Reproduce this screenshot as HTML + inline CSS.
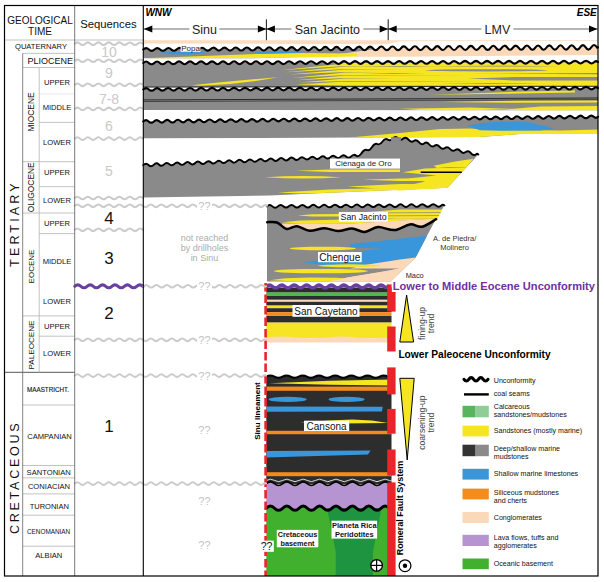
<!DOCTYPE html>
<html><head><meta charset="utf-8"><title>Chronostratigraphic chart</title>
<style>html,body{margin:0;padding:0;background:#fff;}body{width:604px;height:582px;overflow:hidden;font-family:"Liberation Sans",sans-serif;}svg{display:block;}</style></head>
<body>
<svg width="604" height="582" viewBox="0 0 604 582" font-family="Liberation Sans, sans-serif">
<polygon points="143.3,40.2 598,40.2 598,41 400,41.2 386,44.2 143.3,43.4" fill="#fadcc0" />
<path d="M344.9,48.5Q347.7,45 350.5,48.5Q353.3,52 356.1,48.5Q358.9,44.9 361.7,48.4Q364.5,52 367.3,48.4Q370.1,44.8 372.9,48.4Q375.7,52 378.5,48.4Q381.3,44.7 384.1,48.3Q386.9,52 389.7,48.3Q392.5,44.6 395.3,48.3Q398.1,52 400.9,48.3Q403.7,44.5 406.5,48.2Q409.3,52 412.1,48.2Q414.9,44.4 417.7,48.2Q420.5,52 423.3,48.1Q426.1,44.3 428.9,48.1Q431.7,51.9 434.5,48.1Q437.3,44.2 440.1,48.1Q442.9,51.9 445.7,48Q448.5,44.1 451.3,48Q454.1,51.9 456.9,48Q459.7,44 462.5,48Q465.3,51.9 468.1,47.9Q470.9,43.9 473.7,47.9Q476.5,51.9 479.3,47.9Q482.1,43.8 484.9,47.8Q487.7,51.9 490.5,47.8Q493.3,43.7 496.1,47.8Q498.9,51.9 501.7,47.8Q504.5,43.6 507.3,47.7Q510.1,51.9 512.9,47.7Q515.7,43.5 518.5,47.7Q521.3,51.9 524.1,47.7Q526.9,43.4 529.7,47.6Q532.5,51.9 535.3,47.6Q538.1,43.3 540.9,47.6Q543.7,51.8 546.5,47.5Q549.3,43.2 552.1,47.5Q554.9,51.8 557.7,47.5Q560.5,43.1 563.3,47.5Q566.1,51.8 568.9,47.4Q571.7,43 574.5,47.4Q577.3,51.8 580.1,47.4Q582.9,42.9 585.7,47.4Q588.5,51.8 591.3,47.3Q594.1,42.8 596.9,47.3Q597.5,48.2 598,47.3L598,55L400,56.7L357,56.7L340,54Z" fill="#fbd8b8"/>
<path d="M143.3,49.5Q146.1,46.8 148.9,49.5Q151.7,52.2 154.5,49.4Q157.3,46.7 160.1,49.4Q162.9,52.2 165.7,49.4Q168.5,46.6 171.3,49.4Q174.1,52.2 176.9,49.3Q179.7,46.5 182.5,49.3Q185.3,52.2 188.1,49.3Q190.9,46.4 193.7,49.3Q196.5,52.2 199.3,49.2Q202.1,46.3 204.9,49.2Q207.7,52.1 210.5,49.2Q213.3,46.2 216.1,49.1Q218.9,52.1 221.7,49.1Q224.5,46.1 227.3,49.1Q230.1,52.1 232.9,49.1Q235.7,46 238.5,49Q241.3,52.1 244.1,49Q246.9,45.9 249.7,49Q252.5,52.1 255.3,49Q258.1,45.8 260.9,48.9Q263.7,52.1 266.5,48.9Q269.3,45.7 272.1,48.9Q274.9,52.1 277.7,48.8Q280.5,45.6 283.3,48.8Q286.1,52.1 288.9,48.8Q291.7,45.5 294.5,48.8Q297.3,52.1 300.1,48.7Q302.9,45.4 305.7,48.7Q308.5,52.1 311.3,48.7Q314.1,45.3 316.9,48.7Q319.7,52 322.5,48.6Q325.3,45.2 328.1,48.6Q330.9,52 333.7,48.6Q336.5,45.1 339.3,48.6Q342.1,52 344.9,48.5Q347.7,45 350.5,48.5Q353.3,52 356.1,48.5Q358.9,44.9 361.7,48.4Q364.5,52 367.3,48.4Q370.1,44.8 372.9,48.4Q375.7,52 378.5,48.4L340,54L300,57L250,58.3L143.3,58.3Z" fill="#8a8a8a"/>
<polygon points="150,57.9 260,53.9 300,52.9 357,53.5 357,56.6 300,57.6 260,58.1 150,58.3" fill="#f5e522" />
<polygon points="159,52.5 180,51.6 203,51.8 206,53 190,54.6 170,54.2" fill="#3a96da" />
<polygon points="254,51.6 280,50.8 303,51.2 300,52.8 270,53.6 256,53" fill="#3a96da" />
<path d="M143.3,49.5Q146.1,46.8 148.9,49.5Q151.7,52.2 154.5,49.4Q157.3,46.7 160.1,49.4Q162.9,52.2 165.7,49.4Q168.5,46.6 171.3,49.4Q174.1,52.2 176.9,49.3Q179.7,46.5 182.5,49.3Q185.3,52.2 188.1,49.3Q190.9,46.4 193.7,49.3Q196.5,52.2 199.3,49.2Q202.1,46.3 204.9,49.2Q207.7,52.1 210.5,49.2Q213.3,46.2 216.1,49.1Q218.9,52.1 221.7,49.1Q224.5,46.1 227.3,49.1Q230.1,52.1 232.9,49.1Q235.7,46 238.5,49Q241.3,52.1 244.1,49Q246.9,45.9 249.7,49Q252.5,52.1 255.3,49Q258.1,45.8 260.9,48.9Q263.7,52.1 266.5,48.9Q269.3,45.7 272.1,48.9Q274.9,52.1 277.7,48.8Q280.5,45.6 283.3,48.8Q286.1,52.1 288.9,48.8Q291.7,45.5 294.5,48.8Q297.3,52.1 300.1,48.7Q302.9,45.4 305.7,48.7Q308.5,52.1 311.3,48.7Q314.1,45.3 316.9,48.7Q319.7,52 322.5,48.6Q325.3,45.2 328.1,48.6Q330.9,52 333.7,48.6Q336.5,45.1 339.3,48.6Q342.1,52 344.9,48.5Q347.7,45 350.5,48.5Q353.3,52 356.1,48.5Q358.9,44.9 361.7,48.4Q364.5,52 367.3,48.4Q370.1,44.8 372.9,48.4Q375.7,52 378.5,48.4Q381.3,44.7 384.1,48.3Q386.9,52 389.7,48.3Q392.5,44.6 395.3,48.3Q398.1,52 400.9,48.3Q403.7,44.5 406.5,48.2Q409.3,52 412.1,48.2Q414.9,44.4 417.7,48.2Q420.5,52 423.3,48.1Q426.1,44.3 428.9,48.1Q431.7,51.9 434.5,48.1Q437.3,44.2 440.1,48.1Q442.9,51.9 445.7,48Q448.5,44.1 451.3,48Q454.1,51.9 456.9,48Q459.7,44 462.5,48Q465.3,51.9 468.1,47.9Q470.9,43.9 473.7,47.9Q476.5,51.9 479.3,47.9Q482.1,43.8 484.9,47.8Q487.7,51.9 490.5,47.8Q493.3,43.7 496.1,47.8Q498.9,51.9 501.7,47.8Q504.5,43.6 507.3,47.7Q510.1,51.9 512.9,47.7Q515.7,43.5 518.5,47.7Q521.3,51.9 524.1,47.7Q526.9,43.4 529.7,47.6Q532.5,51.9 535.3,47.6Q538.1,43.3 540.9,47.6Q543.7,51.8 546.5,47.5Q549.3,43.2 552.1,47.5Q554.9,51.8 557.7,47.5Q560.5,43.1 563.3,47.5Q566.1,51.8 568.9,47.4Q571.7,43 574.5,47.4Q577.3,51.8 580.1,47.4Q582.9,42.9 585.7,47.4Q588.5,51.8 591.3,47.3Q594.1,42.8 596.9,47.3Q597.5,48.2 598,47.3" fill="none" stroke="#000" stroke-width="2.1" stroke-linecap="round" stroke-linejoin="round"/>
<rect x="180.6" y="44.6" width="19.8" height="7.2" fill="#fff" />
<text x="190.5" y="48.3" font-size="8" fill="#222" text-anchor="middle" font-weight="normal" font-style="normal" dominant-baseline="central" >Popa</text>
<path d="M143.3,62.9Q146.1,60.1 148.8,62.9Q151.6,65.7 154.3,62.9Q157.1,60.1 159.8,62.9Q162.6,65.7 165.3,62.9Q168.1,60.1 170.8,62.9Q173.6,65.6 176.3,62.8Q179.1,60 181.8,62.8Q184.6,65.6 187.3,62.8Q190.1,60 192.8,62.8Q195.6,65.6 198.3,62.8Q201.1,60 203.8,62.8Q206.6,65.6 209.3,62.8Q212.1,60 214.8,62.8Q217.6,65.6 220.3,62.8Q223.1,60 225.8,62.8Q228.6,65.6 231.3,62.7Q234.1,59.9 236.8,62.7Q239.6,65.5 242.3,62.7Q245.1,59.9 247.8,62.7Q250.6,65.5 253.3,62.7Q256.1,59.9 258.8,62.7Q261.6,65.5 264.3,62.7Q267.1,59.9 269.8,62.7Q272.6,65.5 275.3,62.7Q278.1,59.9 280.8,62.7Q283.6,65.5 286.3,62.6Q289.1,59.8 291.8,62.6Q294.6,65.4 297.3,62.6Q300.1,59.8 302.8,62.6Q305.6,65.4 308.3,62.6Q311.1,59.8 313.8,62.6Q316.6,65.4 319.3,62.6Q322.1,59.8 324.8,62.6Q327.6,65.4 330.3,62.6Q333.1,59.8 335.8,62.6Q338.6,65.4 341.3,62.6Q344.1,59.7 346.8,62.5Q349.6,65.3 352.3,62.5Q355.1,59.7 357.8,62.5Q360.6,65.3 363.3,62.5Q366.1,59.7 368.8,62.5Q371.6,65.3 374.3,62.5Q377.1,59.7 379.8,62.5Q382.6,65.3 385.3,62.5Q388.1,59.7 390.8,62.5Q393.6,65.3 396.3,62.5Q399.1,59.7 401.8,62.4Q404.6,65.2 407.3,62.4Q410.1,59.6 412.8,62.4Q415.6,65.2 418.3,62.4Q421.1,59.6 423.8,62.4Q426.6,65.2 429.3,62.4Q432.1,59.6 434.8,62.4Q437.6,65.2 440.3,62.4Q443.1,59.6 445.8,62.4Q448.6,65.2 451.3,62.4Q454.1,59.6 456.8,62.3Q459.6,65.1 462.3,62.3Q465.1,59.5 467.8,62.3Q470.6,65.1 473.3,62.3Q476.1,59.5 478.8,62.3Q481.6,65.1 484.3,62.3Q487.1,59.5 489.8,62.3Q492.6,65.1 495.3,62.3Q498.1,59.5 500.8,62.3Q503.6,65.1 506.3,62.3Q509.1,59.5 511.8,62.3Q514.5,65 517.3,62.2Q520,59.4 522.8,62.2Q525.5,65 528.3,62.2Q531,59.4 533.8,62.2Q536.5,65 539.3,62.2Q542,59.4 544.8,62.2Q547.5,65 550.3,62.2Q553,59.4 555.8,62.2Q558.5,65 561.3,62.2Q564,59.4 566.8,62.2Q569.5,65 572.3,62.1Q575,59.3 577.8,62.1Q580.5,64.9 583.3,62.1Q586,59.3 588.8,62.1Q591.5,64.9 594.3,62.1Q596.1,60.2 598,62.1L598,87L143.3,87.5Z" fill="#8a8a8a"/>
<polygon points="343,63 598,62.5 598,86 343,85.4" fill="#f5e522" />
<polygon points="280,70.3 345,63.4 345,66" fill="#f5e522" />
<polygon points="285,72.2 345,66.5 345,69" fill="#f5e522" />
<polygon points="289,74.6 345,69.5 345,72" fill="#f5e522" />
<polygon points="292,77.9 345,72.5 345,75" fill="#f5e522" />
<polygon points="296,80.2 345,75.5 345,78" fill="#f5e522" />
<polygon points="299,82.4 345,78.5 345,81" fill="#f5e522" />
<polygon points="296,84.6 345,81.6 345,85.4" fill="#f5e522" />
<polygon points="343,66 343,66.5 372,66.2" fill="#8a8a8a" />
<polygon points="343,69 343,69.6 400,69.3" fill="#8a8a8a" />
<polygon points="343,72 343,72.5 380,72.2" fill="#8a8a8a" />
<polygon points="343,75 343,75.6 470,75.3" fill="#8a8a8a" />
<polygon points="343,78 343,78.5 395,78.2" fill="#8a8a8a" />
<polygon points="343,81 343,81.7 486,81.3" fill="#8a8a8a" />
<path d="M360,66.4 Q398,65.5 436,66.4 Q398,67.3 360,66.4Z" fill="#8a8a8a"/>
<path d="M362,73.6 Q393.5,72.7 425,73.6 Q393.5,74.5 362,73.6Z" fill="#8a8a8a"/>
<ellipse cx="486.5" cy="70.3" rx="61.5" ry="1.1" fill="#8a8a8a"/>
<polygon points="468,78.6 515,77 598,77 598,80.4 515,80.4" fill="#8a8a8a" />
<path d="M430,66.2 Q495,65.5 560,66.2 Q495,66.9 430,66.2Z" fill="#8a8a8a"/>
<polygon points="470,73.6 598,73 598,74.2" fill="#8a8a8a" />
<path d="M440,83.3 Q490,82.6 540,83.3 Q490,84 440,83.3Z" fill="#8a8a8a"/>
<path d="M191.5,85.2 Q235,80.6 278,77.2 Q240,84.6 200,85.8Z" fill="#f5e522"/>
<path d="M143.3,62.9Q146.1,60.1 148.8,62.9Q151.6,65.7 154.3,62.9Q157.1,60.1 159.8,62.9Q162.6,65.7 165.3,62.9Q168.1,60.1 170.8,62.9Q173.6,65.6 176.3,62.8Q179.1,60 181.8,62.8Q184.6,65.6 187.3,62.8Q190.1,60 192.8,62.8Q195.6,65.6 198.3,62.8Q201.1,60 203.8,62.8Q206.6,65.6 209.3,62.8Q212.1,60 214.8,62.8Q217.6,65.6 220.3,62.8Q223.1,60 225.8,62.8Q228.6,65.6 231.3,62.7Q234.1,59.9 236.8,62.7Q239.6,65.5 242.3,62.7Q245.1,59.9 247.8,62.7Q250.6,65.5 253.3,62.7Q256.1,59.9 258.8,62.7Q261.6,65.5 264.3,62.7Q267.1,59.9 269.8,62.7Q272.6,65.5 275.3,62.7Q278.1,59.9 280.8,62.7Q283.6,65.5 286.3,62.6Q289.1,59.8 291.8,62.6Q294.6,65.4 297.3,62.6Q300.1,59.8 302.8,62.6Q305.6,65.4 308.3,62.6Q311.1,59.8 313.8,62.6Q316.6,65.4 319.3,62.6Q322.1,59.8 324.8,62.6Q327.6,65.4 330.3,62.6Q333.1,59.8 335.8,62.6Q338.6,65.4 341.3,62.6Q344.1,59.7 346.8,62.5Q349.6,65.3 352.3,62.5Q355.1,59.7 357.8,62.5Q360.6,65.3 363.3,62.5Q366.1,59.7 368.8,62.5Q371.6,65.3 374.3,62.5Q377.1,59.7 379.8,62.5Q382.6,65.3 385.3,62.5Q388.1,59.7 390.8,62.5Q393.6,65.3 396.3,62.5Q399.1,59.7 401.8,62.4Q404.6,65.2 407.3,62.4Q410.1,59.6 412.8,62.4Q415.6,65.2 418.3,62.4Q421.1,59.6 423.8,62.4Q426.6,65.2 429.3,62.4Q432.1,59.6 434.8,62.4Q437.6,65.2 440.3,62.4Q443.1,59.6 445.8,62.4Q448.6,65.2 451.3,62.4Q454.1,59.6 456.8,62.3Q459.6,65.1 462.3,62.3Q465.1,59.5 467.8,62.3Q470.6,65.1 473.3,62.3Q476.1,59.5 478.8,62.3Q481.6,65.1 484.3,62.3Q487.1,59.5 489.8,62.3Q492.6,65.1 495.3,62.3Q498.1,59.5 500.8,62.3Q503.6,65.1 506.3,62.3Q509.1,59.5 511.8,62.3Q514.5,65 517.3,62.2Q520,59.4 522.8,62.2Q525.5,65 528.3,62.2Q531,59.4 533.8,62.2Q536.5,65 539.3,62.2Q542,59.4 544.8,62.2Q547.5,65 550.3,62.2Q553,59.4 555.8,62.2Q558.5,65 561.3,62.2Q564,59.4 566.8,62.2Q569.5,65 572.3,62.1Q575,59.3 577.8,62.1Q580.5,64.9 583.3,62.1Q586,59.3 588.8,62.1Q591.5,64.9 594.3,62.1Q596.1,60.2 598,62.1" fill="none" stroke="#000" stroke-width="2.1" stroke-linecap="round" stroke-linejoin="round"/>
<line x1="143.3" y1="87" x2="598" y2="86.2" stroke="#111" stroke-width="0.7" />
<path d="M143.3,89.4Q146.1,86.8 148.8,89.4Q151.6,92 154.3,89.4Q157.1,86.8 159.8,89.4Q162.6,91.9 165.3,89.3Q168.1,86.7 170.8,89.3Q173.6,91.9 176.3,89.3Q179.1,86.7 181.8,89.3Q184.6,91.9 187.3,89.3Q190.1,86.7 192.8,89.3Q195.6,91.9 198.3,89.2Q201.1,86.6 203.8,89.2Q206.6,91.8 209.3,89.2Q212.1,86.6 214.8,89.2Q217.6,91.8 220.3,89.2Q223.1,86.6 225.8,89.2Q228.6,91.8 231.3,89.1Q234.1,86.5 236.8,89.1Q239.6,91.7 242.3,89.1Q245.1,86.5 247.8,89.1Q250.6,91.7 253.3,89.1Q256.1,86.5 258.8,89.1Q261.6,91.7 264.3,89.1Q267.1,86.4 269.8,89Q272.6,91.6 275.3,89Q278.1,86.4 280.8,89Q283.6,91.6 286.3,89Q289.1,86.4 291.8,89Q294.6,91.6 297.3,89Q300.1,86.4 302.8,88.9Q305.6,91.5 308.3,88.9Q311.1,86.3 313.8,88.9Q316.6,91.5 319.3,88.9Q322.1,86.3 324.8,88.9Q327.6,91.5 330.3,88.9Q333.1,86.3 335.8,88.8Q338.6,91.4 341.3,88.8Q344.1,86.2 346.8,88.8Q349.6,91.4 352.3,88.8Q355.1,86.2 357.8,88.8Q360.6,91.4 363.3,88.8Q366.1,86.2 368.8,88.8Q371.6,91.3 374.3,88.7Q377.1,86.1 379.8,88.7Q382.6,91.3 385.3,88.7Q388.1,86.1 390.8,88.7Q393.6,91.3 396.3,88.7Q399.1,86.1 401.8,88.7Q404.6,91.3 407.3,88.6Q410.1,86 412.8,88.6Q415.6,91.2 418.3,88.6Q421.1,86 423.8,88.6Q426.6,91.2 429.3,88.6Q432.1,86 434.8,88.6Q437.6,91.2 440.3,88.6Q443.1,85.9 445.8,88.5Q448.6,91.1 451.3,88.5Q454.1,85.9 456.8,88.5Q459.6,91.1 462.3,88.5Q465.1,85.9 467.8,88.5Q470.6,91.1 473.3,88.5Q476.1,85.8 478.8,88.4Q481.6,91 484.3,88.4Q487.1,85.8 489.8,88.4Q492.6,91 495.3,88.4Q498.1,85.8 500.8,88.4Q503.6,91 506.3,88.4Q509.1,85.8 511.8,88.3Q514.5,90.9 517.3,88.3Q520,85.7 522.8,88.3Q525.5,90.9 528.3,88.3Q531,85.7 533.8,88.3Q536.5,90.9 539.3,88.3Q542,85.7 544.8,88.3Q547.5,90.8 550.3,88.2Q553,85.6 555.8,88.2Q558.5,90.8 561.3,88.2Q564,85.6 566.8,88.2Q569.5,90.8 572.3,88.2Q575,85.6 577.8,88.2Q580.5,90.7 583.3,88.1Q586,85.5 588.8,88.1Q591.5,90.7 594.3,88.1Q596.1,86.4 598,88.1L598,110.3L143.3,109.9Z" fill="#8a8a8a"/>
<polygon points="430,94.8 520,91.6 575,90.4 575,92.6 520,93.6" fill="#f5e522" />
<polygon points="440,102 520,100.6 598,100.4 598,102.6 520,102.8" fill="#f5e522" />
<polygon points="500,110 540,106.5 598,106 598,110.3 540,110.3" fill="#f5e522" />
<polygon points="400,108.8 470,107.6 520,109 470,110.3 420,110.1" fill="#f5e522" />
<path d="M143.3,89.4Q146.1,86.8 148.8,89.4Q151.6,92 154.3,89.4Q157.1,86.8 159.8,89.4Q162.6,91.9 165.3,89.3Q168.1,86.7 170.8,89.3Q173.6,91.9 176.3,89.3Q179.1,86.7 181.8,89.3Q184.6,91.9 187.3,89.3Q190.1,86.7 192.8,89.3Q195.6,91.9 198.3,89.2Q201.1,86.6 203.8,89.2Q206.6,91.8 209.3,89.2Q212.1,86.6 214.8,89.2Q217.6,91.8 220.3,89.2Q223.1,86.6 225.8,89.2Q228.6,91.8 231.3,89.1Q234.1,86.5 236.8,89.1Q239.6,91.7 242.3,89.1Q245.1,86.5 247.8,89.1Q250.6,91.7 253.3,89.1Q256.1,86.5 258.8,89.1Q261.6,91.7 264.3,89.1Q267.1,86.4 269.8,89Q272.6,91.6 275.3,89Q278.1,86.4 280.8,89Q283.6,91.6 286.3,89Q289.1,86.4 291.8,89Q294.6,91.6 297.3,89Q300.1,86.4 302.8,88.9Q305.6,91.5 308.3,88.9Q311.1,86.3 313.8,88.9Q316.6,91.5 319.3,88.9Q322.1,86.3 324.8,88.9Q327.6,91.5 330.3,88.9Q333.1,86.3 335.8,88.8Q338.6,91.4 341.3,88.8Q344.1,86.2 346.8,88.8Q349.6,91.4 352.3,88.8Q355.1,86.2 357.8,88.8Q360.6,91.4 363.3,88.8Q366.1,86.2 368.8,88.8Q371.6,91.3 374.3,88.7Q377.1,86.1 379.8,88.7Q382.6,91.3 385.3,88.7Q388.1,86.1 390.8,88.7Q393.6,91.3 396.3,88.7Q399.1,86.1 401.8,88.7Q404.6,91.3 407.3,88.6Q410.1,86 412.8,88.6Q415.6,91.2 418.3,88.6Q421.1,86 423.8,88.6Q426.6,91.2 429.3,88.6Q432.1,86 434.8,88.6Q437.6,91.2 440.3,88.6Q443.1,85.9 445.8,88.5Q448.6,91.1 451.3,88.5Q454.1,85.9 456.8,88.5Q459.6,91.1 462.3,88.5Q465.1,85.9 467.8,88.5Q470.6,91.1 473.3,88.5Q476.1,85.8 478.8,88.4Q481.6,91 484.3,88.4Q487.1,85.8 489.8,88.4Q492.6,91 495.3,88.4Q498.1,85.8 500.8,88.4Q503.6,91 506.3,88.4Q509.1,85.8 511.8,88.3Q514.5,90.9 517.3,88.3Q520,85.7 522.8,88.3Q525.5,90.9 528.3,88.3Q531,85.7 533.8,88.3Q536.5,90.9 539.3,88.3Q542,85.7 544.8,88.3Q547.5,90.8 550.3,88.2Q553,85.6 555.8,88.2Q558.5,90.8 561.3,88.2Q564,85.6 566.8,88.2Q569.5,90.8 572.3,88.2Q575,85.6 577.8,88.2Q580.5,90.7 583.3,88.1Q586,85.5 588.8,88.1Q591.5,90.7 594.3,88.1Q596.1,86.4 598,88.1" fill="none" stroke="#000" stroke-width="2.1" stroke-linecap="round" stroke-linejoin="round"/>
<line x1="143.3" y1="99.9" x2="598" y2="98" stroke="#111" stroke-width="0.8" />
<line x1="143.3" y1="101.5" x2="598" y2="99.6" stroke="#111" stroke-width="0.6" />
<path d="M143.3,121.5Q146,118.9 148.6,121.4Q151.3,124 153.9,121.4Q156.6,118.8 159.2,121.3Q161.9,123.9 164.5,121.3Q167.2,118.7 169.8,121.2Q172.5,123.8 175.1,121.2Q177.8,118.5 180.4,121.1Q183.1,123.7 185.7,121.1Q188.4,118.4 191,121Q193.7,123.6 196.3,121Q199,118.3 201.6,120.9Q204.3,123.5 206.9,120.8Q209.6,118.2 212.2,120.8Q214.9,123.4 217.5,120.7Q220.2,118.1 222.8,120.7Q225.5,123.3 228.1,120.6Q230.8,118 233.4,120.6Q236.1,123.1 238.7,120.5Q241.4,117.9 244,120.5Q246.7,123 249.3,120.4Q252,117.8 254.6,120.3Q257.3,122.9 259.9,120.3Q262.6,117.7 265.2,120.2Q267.9,122.8 270.5,120.2Q273.2,117.6 275.8,120.1Q278.5,122.7 281.1,120.1Q283.8,117.4 286.4,120Q289.1,122.6 291.7,120Q294.4,117.3 297,119.9Q299.7,122.5 302.3,119.9Q305,117.2 307.6,119.8Q310.3,122.4 312.9,119.7Q315.6,117.1 318.2,119.7Q320.9,122.3 323.5,119.6Q326.2,117 328.8,119.6Q331.5,122.2 334.1,119.5Q336.8,116.9 339.4,119.5Q342.1,122 344.7,119.4Q347.4,116.8 350,119.4Q352.7,121.9 355.3,119.3Q358,116.7 360.6,119.3Q363.3,121.8 365.9,119.2Q368.6,116.6 371.2,119.1Q373.9,121.7 376.5,119.1Q379.2,116.5 381.8,119Q384.5,121.6 387.1,119Q389.8,116.4 392.4,118.9Q395.1,121.5 397.7,118.9Q400.4,116.2 403,118.8Q405.7,121.4 408.3,118.8Q411,116.1 413.6,118.7Q416.3,121.3 418.9,118.7Q421.6,116 424.2,118.6Q426.9,121.2 429.5,118.5Q432.2,115.9 434.8,118.5Q437.5,121.1 440.1,118.4Q442.8,115.8 445.4,118.4Q448.1,120.9 450.7,118.3Q453.4,115.7 456,118.3Q458.7,120.8 461.3,118.2Q464,115.6 466.6,118.2Q469.3,120.7 471.9,118.1Q474.6,115.5 477.2,118Q479.9,120.6 482.5,118Q485.2,115.4 487.8,117.9Q490.5,120.5 493.1,117.9Q495.8,115.3 498.4,117.8Q501.1,120.4 503.7,117.8Q506.4,115.1 509,117.7Q511.7,120.3 514.3,117.7Q517,115 519.6,117.6Q522.3,120.2 524.9,117.6Q527.6,114.9 530.2,117.5Q532.9,120.1 535.5,117.4Q538.2,114.8 540.8,117.4Q543.5,120 546.1,117.3Q548.8,114.7 551.4,117.3Q554.1,119.9 556.7,117.2Q559.4,114.6 562,117.2Q564.7,119.7 567.3,117.1Q570,114.5 572.6,117.1Q575.3,119.6 577.9,117Q580.6,114.4 583.2,117Q585.9,119.5 588.5,116.9Q591.2,114.3 593.8,116.8Q595.9,118.9 598,116.8L598,134L520,134L480,137L400,137.3L360,137.5L260,138L143.3,138.3Z" fill="#8a8a8a"/>
<polygon points="349,137.6 400,133 440,129 470,128.4 500,130 560,130.4 598,129.4 598,134 520,134 480,137 400,137.4" fill="#f5e522" />
<polygon points="467,126 480,123.2 495,121.8 520,121.6 530,122.6 537,124.6 548,126.6 554,128.8 540,130.4 500,130.8 480,130.2" fill="#3a96da" />
<path d="M143.3,121.5Q146,118.9 148.6,121.4Q151.3,124 153.9,121.4Q156.6,118.8 159.2,121.3Q161.9,123.9 164.5,121.3Q167.2,118.7 169.8,121.2Q172.5,123.8 175.1,121.2Q177.8,118.5 180.4,121.1Q183.1,123.7 185.7,121.1Q188.4,118.4 191,121Q193.7,123.6 196.3,121Q199,118.3 201.6,120.9Q204.3,123.5 206.9,120.8Q209.6,118.2 212.2,120.8Q214.9,123.4 217.5,120.7Q220.2,118.1 222.8,120.7Q225.5,123.3 228.1,120.6Q230.8,118 233.4,120.6Q236.1,123.1 238.7,120.5Q241.4,117.9 244,120.5Q246.7,123 249.3,120.4Q252,117.8 254.6,120.3Q257.3,122.9 259.9,120.3Q262.6,117.7 265.2,120.2Q267.9,122.8 270.5,120.2Q273.2,117.6 275.8,120.1Q278.5,122.7 281.1,120.1Q283.8,117.4 286.4,120Q289.1,122.6 291.7,120Q294.4,117.3 297,119.9Q299.7,122.5 302.3,119.9Q305,117.2 307.6,119.8Q310.3,122.4 312.9,119.7Q315.6,117.1 318.2,119.7Q320.9,122.3 323.5,119.6Q326.2,117 328.8,119.6Q331.5,122.2 334.1,119.5Q336.8,116.9 339.4,119.5Q342.1,122 344.7,119.4Q347.4,116.8 350,119.4Q352.7,121.9 355.3,119.3Q358,116.7 360.6,119.3Q363.3,121.8 365.9,119.2Q368.6,116.6 371.2,119.1Q373.9,121.7 376.5,119.1Q379.2,116.5 381.8,119Q384.5,121.6 387.1,119Q389.8,116.4 392.4,118.9Q395.1,121.5 397.7,118.9Q400.4,116.2 403,118.8Q405.7,121.4 408.3,118.8Q411,116.1 413.6,118.7Q416.3,121.3 418.9,118.7Q421.6,116 424.2,118.6Q426.9,121.2 429.5,118.5Q432.2,115.9 434.8,118.5Q437.5,121.1 440.1,118.4Q442.8,115.8 445.4,118.4Q448.1,120.9 450.7,118.3Q453.4,115.7 456,118.3Q458.7,120.8 461.3,118.2Q464,115.6 466.6,118.2Q469.3,120.7 471.9,118.1Q474.6,115.5 477.2,118Q479.9,120.6 482.5,118Q485.2,115.4 487.8,117.9Q490.5,120.5 493.1,117.9Q495.8,115.3 498.4,117.8Q501.1,120.4 503.7,117.8Q506.4,115.1 509,117.7Q511.7,120.3 514.3,117.7Q517,115 519.6,117.6Q522.3,120.2 524.9,117.6Q527.6,114.9 530.2,117.5Q532.9,120.1 535.5,117.4Q538.2,114.8 540.8,117.4Q543.5,120 546.1,117.3Q548.8,114.7 551.4,117.3Q554.1,119.9 556.7,117.2Q559.4,114.6 562,117.2Q564.7,119.7 567.3,117.1Q570,114.5 572.6,117.1Q575.3,119.6 577.9,117Q580.6,114.4 583.2,117Q585.9,119.5 588.5,116.9Q591.2,114.3 593.8,116.8Q595.9,118.9 598,116.8" fill="none" stroke="#000" stroke-width="2.1" stroke-linecap="round" stroke-linejoin="round"/>
<path d="M143.3,165.2Q145.9,162.5 148.5,165Q151.1,167.5 153.7,164.8Q156.3,162.1 158.9,164.5Q161.5,167 164.1,164.3Q166.7,161.6 169.3,164.1Q171.9,166.6 174.5,163.9Q177.1,161.2 179.7,163.7Q182.3,166.2 184.9,163.4Q187.5,160.7 190.1,163.2Q192.7,165.7 195.3,163Q197.9,160.3 200.5,162.8Q203.1,165.3 205.7,162.6Q208.3,159.9 210.9,162.3Q213.5,164.8 216.1,162.1Q218.7,159.4 221.3,161.9Q223.9,164.4 226.5,161.7Q229.1,159 231.7,161.5Q234.3,164 236.9,161.2Q239.5,158.5 242.1,161Q244.7,163.5 247.3,160.8Q249.9,158.1 252.5,160.6Q255.1,163.1 257.7,160.4Q260.3,157.7 262.9,160.1Q265.5,162.6 268.1,159.9Q270.7,157.2 273.3,159.7Q275.9,162.2 278.5,159.5Q281.1,156.8 283.7,159.3Q286.3,161.8 288.9,159Q291.5,156.3 294.1,158.8Q296.7,161.3 299.3,158.6Q301.9,155.9 304.5,158.4Q307.1,160.8 309.7,158.1Q312.3,155.4 314.9,157.9Q317.5,160.4 320.1,157.7Q322.7,154.9 325.3,157.4Q327.9,159.9 330.5,157.2Q333.1,154.5 335.7,157Q338.3,159.4 340.9,156.7Q343.5,154 346.1,156.5Q348.7,159 351.3,156.3Q353.9,153.5 356.5,156Q359.1,157.2 361.7,153.1Q364.3,149 366.9,150Q369.5,151.1 372.1,147Q374.7,142.9 377.3,144Q379.9,145.4 382.5,141.5Q385.1,137.9 387.7,139.5Q390.3,141.6 392.9,138.5Q395.5,135.8 398.1,138.3Q400.7,141 403.3,138.5Q405.9,136.5 408.5,139.7Q411.1,142.9 413.7,141Q416.3,139 418.9,142.2Q421.5,145.4 424.1,143.4Q426.7,141.4 429.3,144.5Q431.9,147.7 434.5,145.7Q437.1,143.7 439.7,146.9Q442.3,150.1 444.9,148Q447.5,145.9 450.1,149Q452.7,152.1 455.3,150Q457.9,148 460.5,151.1Q463.1,154.2 465.7,152.1Q468.3,150 470.9,153.1Q473.5,156.2 476.1,154.2Q477.2,153.3 478.3,154.6L447.5,187.7L330,192.8L270,195.4L143.3,197.5Z" fill="#8a8a8a"/>
<polygon points="295.8,170.8 330,169.6 400,169.6 400,172 330,172" fill="#f5e522" />
<path d="M265,177.3 Q303.2,174.7 341.5,177.3 Q303.2,179.9 265,177.3Z" fill="#f5e522"/>
<polygon points="363,179.7 400,178.4 440,178 440,181 400,181" fill="#f5e522" />
<polygon points="347.4,186.6 400,184 450,184 449,186 447.5,187.7 400,189.8" fill="#f5e522" />
<polygon points="278,192.6 330,189.4 400,187.4 447.5,187.7 400,189.8 330,192.8 300,193.6" fill="#f5e522" />
<polygon points="433.6,165.8 455,161.5 473.5,158.8 466.5,167 450,167 437,168" fill="#f5e522" />
<polygon points="402.8,172.3 425,168.6 466.4,167.2 447.5,187.8 400,190.4 385,189.6 412,184.5 425,181.5 408,178.4 436,175.6" fill="#f5e522" />
<path d="M143.3,165.2Q145.9,162.5 148.5,165Q151.1,167.5 153.7,164.8Q156.3,162.1 158.9,164.5Q161.5,167 164.1,164.3Q166.7,161.6 169.3,164.1Q171.9,166.6 174.5,163.9Q177.1,161.2 179.7,163.7Q182.3,166.2 184.9,163.4Q187.5,160.7 190.1,163.2Q192.7,165.7 195.3,163Q197.9,160.3 200.5,162.8Q203.1,165.3 205.7,162.6Q208.3,159.9 210.9,162.3Q213.5,164.8 216.1,162.1Q218.7,159.4 221.3,161.9Q223.9,164.4 226.5,161.7Q229.1,159 231.7,161.5Q234.3,164 236.9,161.2Q239.5,158.5 242.1,161Q244.7,163.5 247.3,160.8Q249.9,158.1 252.5,160.6Q255.1,163.1 257.7,160.4Q260.3,157.7 262.9,160.1Q265.5,162.6 268.1,159.9Q270.7,157.2 273.3,159.7Q275.9,162.2 278.5,159.5Q281.1,156.8 283.7,159.3Q286.3,161.8 288.9,159Q291.5,156.3 294.1,158.8Q296.7,161.3 299.3,158.6Q301.9,155.9 304.5,158.4Q307.1,160.8 309.7,158.1Q312.3,155.4 314.9,157.9Q317.5,160.4 320.1,157.7Q322.7,154.9 325.3,157.4Q327.9,159.9 330.5,157.2Q333.1,154.5 335.7,157Q338.3,159.4 340.9,156.7Q343.5,154 346.1,156.5Q348.7,159 351.3,156.3Q353.9,153.5 356.5,156Q359.1,157.2 361.7,153.1Q364.3,149 366.9,150Q369.5,151.1 372.1,147Q374.7,142.9 377.3,144Q379.9,145.4 382.5,141.5Q385.1,137.9 387.7,139.5Q390.3,141.6 392.9,138.5Q395.5,135.8 398.1,138.3Q400.7,141 403.3,138.5Q405.9,136.5 408.5,139.7Q411.1,142.9 413.7,141Q416.3,139 418.9,142.2Q421.5,145.4 424.1,143.4Q426.7,141.4 429.3,144.5Q431.9,147.7 434.5,145.7Q437.1,143.7 439.7,146.9Q442.3,150.1 444.9,148Q447.5,145.9 450.1,149Q452.7,152.1 455.3,150Q457.9,148 460.5,151.1Q463.1,154.2 465.7,152.1Q468.3,150 470.9,153.1Q473.5,156.2 476.1,154.2Q477.2,153.3 478.3,154.6" fill="none" stroke="#000" stroke-width="1.9" stroke-linecap="round" stroke-linejoin="round"/>
<rect x="391" y="137.2" width="10" height="3.6" fill="#8a8a8a" />
<line x1="420.7" y1="172.2" x2="461.8" y2="172.2" stroke="#000" stroke-width="1.5" />
<rect x="330" y="158.6" width="70" height="10" fill="#fff" />
<text x="363.4" y="163.8" font-size="8.0" fill="#222" text-anchor="middle" font-weight="normal" font-style="normal" dominant-baseline="central" >Ciénaga de Oro</text>
<path d="M267,206.4Q269.7,203.8 272.4,206.4Q275.2,209 277.9,206.3Q280.6,203.7 283.3,206.3Q286.1,208.9 288.8,206.3Q291.5,203.7 294.2,206.2Q297,208.8 299.7,206.2Q302.4,203.6 305.1,206.2Q307.9,208.8 310.6,206.2Q313.3,203.5 316,206.1Q318.8,208.7 321.5,206.1Q324.2,203.5 326.9,206.1Q329.7,208.6 332.4,206Q335.1,203.4 337.8,206Q340.6,208.6 343.3,206Q346,203.4 348.7,205.9Q351.5,208.5 354.2,205.9Q356.9,203.3 359.6,205.9Q362.4,208.5 365.1,205.8Q367.8,203.2 370.5,205.8Q373.3,208.4 376,205.8Q378.7,203.2 381.4,205.8Q384.2,208.3 386.9,205.7Q389.6,203.1 392.3,205.7Q395.1,208.3 397.8,205.7Q400.5,203 403.2,205.6Q406,208.2 408.7,205.6Q411.4,203 414.1,205.6Q416.9,208.2 419.6,205.5Q422.3,202.9 425,205.5Q427.8,208.1 430.5,205.5Q433.2,202.9 435.9,205.4Q438.7,208 441.4,205.4Q442.9,204 444.4,205.4L435.4,220L426.5,236.8L415.6,257.6L390.7,281.5L267,281.5Z" fill="#8a8a8a"/>
<polygon points="297.7,215.4 312,214.3 340,214 400,209.6 442.4,209.5 437.6,218.4 400,218.4 340,216.6 312,216.4" fill="#f5e522" />
<polygon points="282,222.2 300,220.6 400,218.2 437.6,218.4 400,220.8 352,223.6 300,223.7" fill="#f5e522" />
<polygon points="385,212.6 441,212.2 440.6,213 385,213.2" fill="#8a8a8a" />
<polygon points="385,215.6 439.2,215.2 438.8,216 385,216.2" fill="#8a8a8a" />
<path d="M282,223.6L282,225.8L286.6,228.9C288.3,228.4 293.1,225.9 297,226.2C300.9,226.5 305.1,230.4 309.7,230.7C314.3,231 319.9,228.1 324.6,228.2C329.3,228.3 333.4,231 338,231.1C342.6,231.2 347.6,228.5 352,228.6C356.4,228.7 360.4,232.2 364.7,231.9C369,231.7 373,227.4 378,227.1C383,226.8 389.2,230.5 394.5,230.1C399.8,229.7 405.4,225 410,224.4C414.6,223.8 417.6,227.6 422,226.7C426.4,225.8 433.8,220.4 436.2,219.2L437.6,218.4L400,220.6L352,223.6Z" fill="#fbd8b8"/>
<polygon points="350.4,244 380,241 426.5,235.8 426.5,236.8 415.6,257.6 400,259.5 363,265.2 340,266.8 302.7,262.6 335,258 350,252 383,248.8 350,247.4" fill="#3a96da" />
<polygon points="363,265.2 400,259.5 415.6,257.6 390.7,281.5 329.5,281.5 350,277 380,272 399.7,268.5 380,268.5 350,268.6" fill="#fbd8b8" />
<polygon points="329.5,280.5 360,275.5 385,271.5 399.7,268.5 396,276.4 390.7,281.5 329.5,281.5" fill="#fbd8b8" />
<ellipse cx="322.9" cy="248.5" rx="33.1" ry="1.8" fill="#f5e522"/>
<ellipse cx="349.5" cy="265.8" rx="31.5" ry="1.5" fill="#f5e522"/>
<ellipse cx="320.8" cy="271.1" rx="47.2" ry="2.2" fill="#f5e522"/>
<polygon points="269.4,280.2 285,278.2 310,277.4 336.5,277.8 345,278.4 330,280.9 300,281.4" fill="#f5e522" />
<path d="M267.2,222.2C268.8,222.2 273.8,221.4 277,222.5C280.2,223.6 283.3,228.3 286.6,228.9C289.9,229.5 293.1,225.9 297,226.2C300.9,226.5 305.1,230.4 309.7,230.7C314.3,231 319.9,228.1 324.6,228.2C329.3,228.3 333.4,231 338,231.1C342.6,231.2 347.6,228.5 352,228.6C356.4,228.7 360.4,232.2 364.7,231.9C369,231.7 373,227.4 378,227.1C383,226.8 389.2,230.5 394.5,230.1C399.8,229.7 405.4,225 410,224.4C414.6,223.8 417.6,227.6 422,226.7C426.4,225.8 433.8,220.4 436.2,219.2" fill="none" stroke="#000" stroke-width="2.5" stroke-linecap="round" stroke-linejoin="round"/>
<path d="M267,206.4Q269.7,203.8 272.4,206.4Q275.2,209 277.9,206.3Q280.6,203.7 283.3,206.3Q286.1,208.9 288.8,206.3Q291.5,203.7 294.2,206.2Q297,208.8 299.7,206.2Q302.4,203.6 305.1,206.2Q307.9,208.8 310.6,206.2Q313.3,203.5 316,206.1Q318.8,208.7 321.5,206.1Q324.2,203.5 326.9,206.1Q329.7,208.6 332.4,206Q335.1,203.4 337.8,206Q340.6,208.6 343.3,206Q346,203.4 348.7,205.9Q351.5,208.5 354.2,205.9Q356.9,203.3 359.6,205.9Q362.4,208.5 365.1,205.8Q367.8,203.2 370.5,205.8Q373.3,208.4 376,205.8Q378.7,203.2 381.4,205.8Q384.2,208.3 386.9,205.7Q389.6,203.1 392.3,205.7Q395.1,208.3 397.8,205.7Q400.5,203 403.2,205.6Q406,208.2 408.7,205.6Q411.4,203 414.1,205.6Q416.9,208.2 419.6,205.5Q422.3,202.9 425,205.5Q427.8,208.1 430.5,205.5Q433.2,202.9 435.9,205.4Q438.7,208 441.4,205.4Q442.9,204 444.4,205.4" fill="none" stroke="#000" stroke-width="1.9" stroke-linecap="round" stroke-linejoin="round"/>
<rect x="338.8" y="212" width="49.2" height="9.6" fill="#fff" />
<text x="363.6" y="216.9" font-size="8.8" fill="#111" text-anchor="middle" font-weight="normal" font-style="normal" dominant-baseline="central" >San Jacinto</text>
<rect x="318" y="252" width="43.7" height="10.2" fill="#fff" />
<text x="339.8" y="257.2" font-size="10.1" fill="#111" text-anchor="middle" font-weight="normal" font-style="normal" dominant-baseline="central" >Chengue</text>
<text x="454.6" y="238" font-size="7.5" fill="#333" text-anchor="middle" font-weight="normal" font-style="normal" dominant-baseline="central" >A. de Piedra/</text>
<text x="454.6" y="247" font-size="7.5" fill="#333" text-anchor="middle" font-weight="normal" font-style="normal" dominant-baseline="central" >Molinero</text>
<text x="414.7" y="275" font-size="7.4" fill="#222" text-anchor="middle" font-weight="normal" font-style="normal" dominant-baseline="central" >Maco</text>
<rect x="266.3" y="287.5" width="125.2" height="5.1" fill="#2d2d2d" />
<rect x="266.3" y="292.6" width="125.2" height="3.4" fill="#4fb848" />
<rect x="266.3" y="296" width="125.2" height="3.8" fill="#2d2d2d" />
<rect x="266.3" y="299.8" width="125.2" height="2" fill="#fbd8b8" />
<rect x="266.3" y="301.8" width="125.2" height="3.8" fill="#2d2d2d" />
<rect x="266.3" y="305.6" width="125.2" height="2.6" fill="#f5e522" />
<rect x="266.3" y="308.2" width="125.2" height="3.9" fill="#2d2d2d" />
<rect x="266.3" y="312.1" width="125.2" height="3.7" fill="#f28c1f" />
<rect x="266.3" y="315.9" width="125.2" height="6.7" fill="#2d2d2d" />
<rect x="266.3" y="322.6" width="125.2" height="15.4" fill="#f5e522" />
<path d="M266.3,337.4Q281.3,335.8 296.3,337.4Q311.3,339 326.3,337.4Q341.3,335.8 356.3,337.4Q371.3,339 386.3,337.4Q388.9,337.1 391.5,337.4L391.5,342.6L266.3,342.6Z" fill="#fbd8b8"/>
<rect x="292.5" y="305" width="67" height="11.8" fill="#fff" />
<text x="326" y="311" font-size="10" fill="#111" text-anchor="middle" font-weight="normal" font-style="normal" dominant-baseline="central" >San Cayetano</text>
<path d="M266.3,376.6Q270.4,374.2 274.4,376.6Q278.5,379 282.5,376.6Q286.6,374.2 290.6,376.6Q294.7,379 298.7,376.6Q302.8,374.2 306.8,376.6Q310.9,379 314.9,376.6Q319,374.2 323,376.6Q327.1,379 331.1,376.6Q335.2,374.2 339.2,376.6Q343.3,379 347.3,376.6Q351.4,374.2 355.4,376.6Q359.5,379 363.5,376.6Q367.6,374.2 371.6,376.6Q375.7,379 379.7,376.6Q383.8,374.2 387.8,376.6Q389.7,377.7 391.5,376.6L391.5,484L266.3,484Z" fill="#2d2d2d"/>
<path d="M266.3,376.6Q270.4,374.2 274.4,376.6Q278.5,379 282.5,376.6Q286.6,374.2 290.6,376.6Q294.7,379 298.7,376.6Q302.8,374.2 306.8,376.6Q310.9,379 314.9,376.6Q319,374.2 323,376.6Q327.1,379 331.1,376.6Q335.2,374.2 339.2,376.6Q343.3,379 347.3,376.6Q351.4,374.2 355.4,376.6Q359.5,379 363.5,376.6Q367.6,374.2 371.6,376.6Q375.7,379 379.7,376.6Q383.8,374.2 387.8,376.6Q389.7,377.7 391.5,376.6" fill="none" stroke="#000" stroke-width="2.0" stroke-linecap="round" stroke-linejoin="round"/>
<polygon points="269,383.2 330,380.8 391.5,379.4 391.5,385.4 330,384.8" fill="#f5e522" />
<rect x="266.3" y="386.6" width="125.2" height="4.2" fill="#f28c1f" />
<ellipse cx="287.6" cy="399.4" rx="19" ry="2.6" fill="#3a96da"/>
<ellipse cx="346.6" cy="399.4" rx="18" ry="2.6" fill="#3a96da"/>
<polygon points="266.3,406.5 382.7,406.8 382,411.4 266.3,411.8" fill="#3a96da" />
<polygon points="300,422.6 330,420.6 352,419.4 372,420.6 388,423 340,423.6" fill="#f5e522" />
<rect x="266.3" y="430.8" width="125.2" height="3.4" fill="#f28c1f" />
<polygon points="266.3,451 370.6,450.4 368,454.6 266.3,457.4" fill="#3a96da" />
<rect x="266.3" y="472.2" width="125.2" height="4" fill="#f28c1f" />
<rect x="304" y="420.7" width="45.2" height="10.3" fill="#fff" />
<text x="326.6" y="426" font-size="10" fill="#111" text-anchor="middle" font-weight="normal" font-style="normal" dominant-baseline="central" >Cansona</text>
<path d="M266.3,483.6Q270.4,480 274.5,483.6Q278.6,487.2 282.7,483.6Q286.8,480 290.9,483.6Q295,487.2 299.1,483.6Q303.2,480 307.3,483.6Q311.4,487.2 315.5,483.6Q319.6,480 323.7,483.6Q327.8,487.2 331.9,483.6Q336,480 340.1,483.6Q344.2,487.2 348.3,483.6Q352.4,480 356.5,483.6Q360.6,487.2 364.7,483.6Q368.8,480 372.9,483.6Q377,487.2 381.1,483.6Q385.2,480 389.3,483.6Q390.4,484.6 391.5,483.6L391.5,509L266.3,509Z" fill="#b694d2"/>
<path d="M266.3,480.4Q270.4,477.8 274.5,480.4Q278.6,483 282.7,480.4Q286.8,477.8 290.9,480.4Q295,483 299.1,480.4Q303.2,477.8 307.3,480.4Q311.4,483 315.5,480.4Q319.6,477.8 323.7,480.4Q327.8,483 331.9,480.4Q336,477.8 340.1,480.4Q344.2,483 348.3,480.4Q352.4,477.8 356.5,480.4Q360.6,483 364.7,480.4Q368.8,477.8 372.9,480.4Q377,483 381.1,480.4Q385.2,477.8 389.3,480.4Q390.4,481.1 391.5,480.4" fill="none" stroke="#ececec" stroke-width="0.9" stroke-linecap="round" stroke-linejoin="round"/>
<path d="M266.3,483.6Q270.4,480 274.5,483.6Q278.6,487.2 282.7,483.6Q286.8,480 290.9,483.6Q295,487.2 299.1,483.6Q303.2,480 307.3,483.6Q311.4,487.2 315.5,483.6Q319.6,480 323.7,483.6Q327.8,487.2 331.9,483.6Q336,480 340.1,483.6Q344.2,487.2 348.3,483.6Q352.4,480 356.5,483.6Q360.6,487.2 364.7,483.6Q368.8,480 372.9,483.6Q377,487.2 381.1,483.6Q385.2,480 389.3,483.6Q390.4,484.6 391.5,483.6" fill="none" stroke="#000" stroke-width="1.6" stroke-linecap="round" stroke-linejoin="round"/>
<path d="M266.3,508.2Q270.4,504 274.5,508.2Q278.6,512.4 282.7,508.2Q286.8,504 290.9,508.2Q295,512.4 299.1,508.2Q303.2,504 307.3,508.2Q311.4,512.4 315.5,508.2Q319.6,504 323.7,508.2Q327.8,512.4 331.9,508.2Q336,504 340.1,508.2Q344.2,512.4 348.3,508.2Q352.4,504 356.5,508.2Q360.6,512.4 364.7,508.2Q368.8,504 372.9,508.2Q377,512.4 381.1,508.2Q385.2,504 389.3,508.2Q390.4,509.3 391.5,508.2L391.5,576L266.3,576Z" fill="#41b02f"/>
<polygon points="327,508 381.6,508 373,551.7 373,576 335.7,576 335.7,551.7" fill="#1f9440" />
<path d="M266.3,508.2Q270.4,504 274.5,508.2Q278.6,512.4 282.7,508.2Q286.8,504 290.9,508.2Q295,512.4 299.1,508.2Q303.2,504 307.3,508.2Q311.4,512.4 315.5,508.2Q319.6,504 323.7,508.2Q327.8,512.4 331.9,508.2Q336,504 340.1,508.2Q344.2,512.4 348.3,508.2Q352.4,504 356.5,508.2Q360.6,512.4 364.7,508.2Q368.8,504 372.9,508.2Q377,512.4 381.1,508.2Q385.2,504 389.3,508.2Q390.4,509.3 391.5,508.2" fill="none" stroke="#000" stroke-width="3.0" stroke-linecap="round" stroke-linejoin="round"/>
<rect x="331.5" y="520.7" width="45.6" height="17.9" fill="#fff" />
<text x="354.3" y="525.3" font-size="7.5" fill="#111" text-anchor="middle" font-weight="bold" font-style="normal" dominant-baseline="central" >Planeta Rica</text>
<text x="354.3" y="534.3" font-size="7.5" fill="#111" text-anchor="middle" font-weight="bold" font-style="normal" dominant-baseline="central" >Peridotites</text>
<rect x="276.8" y="529.9" width="41.5" height="17.4" fill="#fff" />
<text x="297.5" y="534.4" font-size="7.3" fill="#111" text-anchor="middle" font-weight="bold" font-style="normal" dominant-baseline="central" >Cretaceous</text>
<text x="297.5" y="543.2" font-size="7.3" fill="#111" text-anchor="middle" font-weight="bold" font-style="normal" dominant-baseline="central" >basement</text>
<circle cx="376.6" cy="565.4" r="5.8" fill="#fff" stroke="#000" stroke-width="1.3"/>
<line x1="370.8" y1="565.4" x2="382.4" y2="565.4" stroke="#000" stroke-width="1.2" />
<line x1="376.6" y1="559.6" x2="376.6" y2="571.2" stroke="#000" stroke-width="1.2" />
<path d="M266.3,286.5Q269.4,283.7 272.5,286.5Q275.6,289.3 278.7,286.5Q281.8,283.7 284.9,286.5Q288,289.3 291.1,286.5Q294.2,283.7 297.3,286.5Q300.4,289.3 303.5,286.5Q306.6,283.7 309.7,286.5Q312.8,289.3 315.9,286.5Q319,283.7 322.1,286.5Q325.2,289.3 328.3,286.5Q331.4,283.7 334.5,286.5Q337.6,289.3 340.7,286.5Q343.8,283.7 346.9,286.5Q350,289.3 353.1,286.5Q356.2,283.7 359.3,286.5Q362.4,289.3 365.5,286.5Q368.6,283.7 371.7,286.5Q374.8,289.3 377.9,286.5Q381,283.7 384.1,286.5Q386,288.3 388,286.5" fill="none" stroke="#6a3fa3" stroke-width="3.6" stroke-linecap="round" stroke-linejoin="round"/>
<path d="M74.7,286.3Q77.8,283.5 80.9,286.3Q84,289.1 87.1,286.3Q90.2,283.5 93.3,286.3Q96.4,289.1 99.5,286.3Q102.6,283.5 105.7,286.3Q108.8,289.1 111.9,286.3Q115,283.5 118.1,286.3Q121.2,289.1 124.3,286.3Q127.4,283.5 130.5,286.3Q133.6,289.1 136.7,286.3Q139.8,283.5 142.9,286.3Q143.1,286.5 143.3,286.3" fill="none" stroke="#6a3fa3" stroke-width="3.0" stroke-linecap="round" stroke-linejoin="round"/>
<line x1="265.6" y1="283" x2="265.6" y2="576" stroke="#e9242b" stroke-width="2.6" stroke-dasharray="8.5 3"/>
<rect x="259.5" y="540.6" width="14.3" height="11.2" fill="#fff" />
<text x="266.6" y="546.4" font-size="10.5" fill="#111" text-anchor="middle" font-weight="normal" font-style="normal" dominant-baseline="central" >??</text>
<rect x="387.2" y="284.4" width="4.4" height="8.6" fill="#e9242b" />
<rect x="387.2" y="292" width="8.4" height="19.6" fill="#e9242b" />
<rect x="387.2" y="326.5" width="8.4" height="25" fill="#e9242b" />
<rect x="387.2" y="367.4" width="8.4" height="27" fill="#e9242b" />
<rect x="387.2" y="408.9" width="8.4" height="24.8" fill="#e9242b" />
<rect x="387.2" y="449.5" width="8.4" height="26" fill="#e9242b" />
<rect x="387.2" y="482.4" width="8.4" height="93.6" fill="#e9242b" />
<polygon points="406.6,295 399.8,342 413.6,342" fill="#f5e522" stroke="#000" stroke-width="1"/>
<polygon points="399.8,378.3 414.2,378.3 407.2,460" fill="#f5e522" stroke="#000" stroke-width="1"/>
<text transform="translate(421.6,323.4) rotate(-90)" font-size="8.6" fill="#444" text-anchor="middle" font-weight="normal" dominant-baseline="central" letter-spacing="0">fining-up</text>
<text transform="translate(430.8,323.4) rotate(-90)" font-size="8.6" fill="#444" text-anchor="middle" font-weight="normal" dominant-baseline="central" letter-spacing="0">trend</text>
<text transform="translate(421.8,422.6) rotate(-90)" font-size="8.6" fill="#444" text-anchor="middle" font-weight="normal" dominant-baseline="central" letter-spacing="0">coarsening-up</text>
<text transform="translate(431,422.6) rotate(-90)" font-size="8.6" fill="#444" text-anchor="middle" font-weight="normal" dominant-baseline="central" letter-spacing="0">trend</text>
<text transform="translate(400.2,507.9) rotate(-90)" font-size="9.0" fill="#000" text-anchor="middle" font-weight="bold" dominant-baseline="central" letter-spacing="0">Romeral Fault System</text>
<text transform="translate(257.6,411) rotate(-90)" font-size="8.1" fill="#000" text-anchor="middle" font-weight="bold" dominant-baseline="central" letter-spacing="0">Sinu lineament</text>
<circle cx="405" cy="565.7" r="5.9" fill="#fff" stroke="#000" stroke-width="1.2"/><circle cx="405" cy="565.7" r="2.2" fill="#000"/>
<text x="392.8" y="286.2" font-size="11.1" fill="#7030a0" text-anchor="start" font-weight="bold" font-style="normal" dominant-baseline="central" >Lower to Middle Eocene Unconformity</text>
<text x="398.4" y="354.4" font-size="10.2" fill="#000" text-anchor="start" font-weight="bold" font-style="normal" dominant-baseline="central" >Lower Paleocene Unconformity</text>
<path d="M74.7,43.7Q77.3,41.1 80,43.7Q82.6,46.3 85.2,43.7Q87.8,41.1 90.5,43.7Q93.1,46.3 95.7,43.7Q98.3,41.1 101,43.7Q103.6,46.3 106.2,43.7Q108.8,41.1 111.5,43.7Q114.1,46.3 116.7,43.7Q119.3,41.1 122,43.7Q124.6,46.3 127.2,43.7Q129.8,41.1 132.4,43.7Q135.1,46.3 137.7,43.7Q140.3,41.1 142.9,43.7Q143.1,43.9 143.3,43.7" fill="none" stroke="#cbcbcb" stroke-width="2.0" stroke-linecap="round" stroke-linejoin="round"/>
<path d="M74.7,60.8Q77.3,58.2 80,60.8Q82.6,63.4 85.2,60.8Q87.8,58.2 90.5,60.8Q93.1,63.4 95.7,60.8Q98.3,58.2 101,60.8Q103.6,63.4 106.2,60.8Q108.8,58.2 111.5,60.8Q114.1,63.4 116.7,60.8Q119.3,58.2 122,60.8Q124.6,63.4 127.2,60.8Q129.8,58.2 132.4,60.8Q135.1,63.4 137.7,60.8Q140.3,58.2 142.9,60.8Q143.1,61 143.3,60.8" fill="none" stroke="#cbcbcb" stroke-width="2.0" stroke-linecap="round" stroke-linejoin="round"/>
<path d="M74.7,84.8Q77.3,82.2 80,84.8Q82.6,87.4 85.2,84.8Q87.8,82.2 90.5,84.8Q93.1,87.4 95.7,84.8Q98.3,82.2 101,84.8Q103.6,87.4 106.2,84.8Q108.8,82.2 111.5,84.8Q114.1,87.4 116.7,84.8Q119.3,82.2 122,84.8Q124.6,87.4 127.2,84.8Q129.8,82.2 132.4,84.8Q135.1,87.4 137.7,84.8Q140.3,82.2 142.9,84.8Q143.1,85 143.3,84.8" fill="none" stroke="#cbcbcb" stroke-width="2.0" stroke-linecap="round" stroke-linejoin="round"/>
<path d="M74.7,108.9Q77.3,106.3 80,108.9Q82.6,111.5 85.2,108.9Q87.8,106.3 90.5,108.9Q93.1,111.5 95.7,108.9Q98.3,106.3 101,108.9Q103.6,111.5 106.2,108.9Q108.8,106.3 111.5,108.9Q114.1,111.5 116.7,108.9Q119.3,106.3 122,108.9Q124.6,111.5 127.2,108.9Q129.8,106.3 132.4,108.9Q135.1,111.5 137.7,108.9Q140.3,106.3 142.9,108.9Q143.1,109.1 143.3,108.9" fill="none" stroke="#cbcbcb" stroke-width="2.0" stroke-linecap="round" stroke-linejoin="round"/>
<path d="M74.7,138.6Q77.3,136 80,138.6Q82.6,141.2 85.2,138.6Q87.8,136 90.5,138.6Q93.1,141.2 95.7,138.6Q98.3,136 101,138.6Q103.6,141.2 106.2,138.6Q108.8,136 111.5,138.6Q114.1,141.2 116.7,138.6Q119.3,136 122,138.6Q124.6,141.2 127.2,138.6Q129.8,136 132.4,138.6Q135.1,141.2 137.7,138.6Q140.3,136 142.9,138.6Q143.1,138.8 143.3,138.6" fill="none" stroke="#cbcbcb" stroke-width="2.0" stroke-linecap="round" stroke-linejoin="round"/>
<path d="M74.7,198Q77.3,195.4 80,198Q82.6,200.6 85.2,198Q87.8,195.4 90.5,198Q93.1,200.6 95.7,198Q98.3,195.4 101,198Q103.6,200.6 106.2,198Q108.8,195.4 111.5,198Q114.1,200.6 116.7,198Q119.3,195.4 122,198Q124.6,200.6 127.2,198Q129.8,195.4 132.4,198Q135.1,200.6 137.7,198Q140.3,195.4 142.9,198Q143.1,198.2 143.3,198" fill="none" stroke="#cbcbcb" stroke-width="2.0" stroke-linecap="round" stroke-linejoin="round"/>
<path d="M74.7,229.8Q77.3,227.2 80,229.8Q82.6,232.4 85.2,229.8Q87.8,227.2 90.5,229.8Q93.1,232.4 95.7,229.8Q98.3,227.2 101,229.8Q103.6,232.4 106.2,229.8Q108.8,227.2 111.5,229.8Q114.1,232.4 116.7,229.8Q119.3,227.2 122,229.8Q124.6,232.4 127.2,229.8Q129.8,227.2 132.4,229.8Q135.1,232.4 137.7,229.8Q140.3,227.2 142.9,229.8Q143.1,230 143.3,229.8" fill="none" stroke="#cbcbcb" stroke-width="2.0" stroke-linecap="round" stroke-linejoin="round"/>
<path d="M74.7,205.8Q77.3,203.2 80,205.8Q82.6,208.4 85.2,205.8Q87.8,203.2 90.5,205.8Q93.1,208.4 95.7,205.8Q98.3,203.2 101,205.8Q103.6,208.4 106.2,205.8Q108.8,203.2 111.5,205.8Q114.1,208.4 116.7,205.8Q119.3,203.2 122,205.8Q124.6,208.4 127.2,205.8Q129.8,203.2 132.4,205.8Q135.1,208.4 137.7,205.8Q140.3,203.2 142.9,205.8Q145.6,208.4 148.2,205.8Q150.8,203.2 153.4,205.8Q156.1,208.4 158.7,205.8Q161.3,203.2 163.9,205.8Q166.6,208.4 169.2,205.8Q171.8,203.2 174.4,205.8Q177.1,208.4 179.7,205.8Q182.3,203.2 184.9,205.8Q187.6,208.4 190.2,205.8Q192.8,203.2 195.4,205.8Q198.1,208.4 200.7,205.8Q203.3,203.2 205.9,205.8Q208.6,208.4 211.2,205.8Q213.8,203.2 216.4,205.8Q219.1,208.4 221.7,205.8Q224.3,203.2 226.9,205.8Q229.6,208.4 232.2,205.8Q234.8,203.2 237.4,205.8Q240.1,208.4 242.7,205.8Q245.3,203.2 247.9,205.8Q250.6,208.4 253.2,205.8Q255.8,203.2 258.4,205.8Q261.1,208.4 263.7,205.8Q265.4,204.2 267,205.8" fill="none" stroke="#cbcbcb" stroke-width="2.0" stroke-linecap="round" stroke-linejoin="round"/>
<path d="M143.3,286.3Q145.9,283.7 148.6,286.3Q151.2,288.9 153.8,286.3Q156.4,283.7 159.1,286.3Q161.7,288.9 164.3,286.3Q166.9,283.7 169.6,286.3Q172.2,288.9 174.8,286.3Q177.4,283.7 180.1,286.3Q182.7,288.9 185.3,286.3Q187.9,283.7 190.6,286.3Q193.2,288.9 195.8,286.3Q198.4,283.7 201.1,286.3Q203.7,288.9 206.3,286.3Q208.9,283.7 211.6,286.3Q214.2,288.9 216.8,286.3Q219.4,283.7 222.1,286.3Q224.7,288.9 227.3,286.3Q229.9,283.7 232.6,286.3Q235.2,288.9 237.8,286.3Q240.4,283.7 243.1,286.3Q245.7,288.9 248.3,286.3Q250.9,283.7 253.6,286.3Q256.2,288.9 258.8,286.3Q261.4,283.7 264.1,286.3Q265,287.3 266,286.3" fill="none" stroke="#cbcbcb" stroke-width="2.0" stroke-linecap="round" stroke-linejoin="round"/>
<path d="M74.7,339.8Q77.3,337.2 80,339.8Q82.6,342.4 85.2,339.8Q87.8,337.2 90.5,339.8Q93.1,342.4 95.7,339.8Q98.3,337.2 101,339.8Q103.6,342.4 106.2,339.8Q108.8,337.2 111.5,339.8Q114.1,342.4 116.7,339.8Q119.3,337.2 122,339.8Q124.6,342.4 127.2,339.8Q129.8,337.2 132.4,339.8Q135.1,342.4 137.7,339.8Q140.3,337.2 142.9,339.8Q145.6,342.4 148.2,339.8Q150.8,337.2 153.4,339.8Q156.1,342.4 158.7,339.8Q161.3,337.2 163.9,339.8Q166.6,342.4 169.2,339.8Q171.8,337.2 174.4,339.8Q177.1,342.4 179.7,339.8Q182.3,337.2 184.9,339.8Q187.6,342.4 190.2,339.8Q192.8,337.2 195.4,339.8Q198.1,342.4 200.7,339.8Q203.3,337.2 205.9,339.8Q208.6,342.4 211.2,339.8Q213.8,337.2 216.4,339.8Q219.1,342.4 221.7,339.8Q224.3,337.2 226.9,339.8Q229.6,342.4 232.2,339.8Q234.8,337.2 237.4,339.8Q240.1,342.4 242.7,339.8Q245.3,337.2 247.9,339.8Q250.6,342.4 253.2,339.8Q255.8,337.2 258.4,339.8Q261.1,342.4 263.7,339.8Q264.9,338.7 266,339.8" fill="none" stroke="#cbcbcb" stroke-width="2.0" stroke-linecap="round" stroke-linejoin="round"/>
<path d="M74.7,375.6Q77.3,373 80,375.6Q82.6,378.2 85.2,375.6Q87.8,373 90.5,375.6Q93.1,378.2 95.7,375.6Q98.3,373 101,375.6Q103.6,378.2 106.2,375.6Q108.8,373 111.5,375.6Q114.1,378.2 116.7,375.6Q119.3,373 122,375.6Q124.6,378.2 127.2,375.6Q129.8,373 132.4,375.6Q135.1,378.2 137.7,375.6Q140.3,373 142.9,375.6Q145.6,378.2 148.2,375.6Q150.8,373 153.4,375.6Q156.1,378.2 158.7,375.6Q161.3,373 163.9,375.6Q166.6,378.2 169.2,375.6Q171.8,373 174.4,375.6Q177.1,378.2 179.7,375.6Q182.3,373 184.9,375.6Q187.6,378.2 190.2,375.6Q192.8,373 195.4,375.6Q198.1,378.2 200.7,375.6Q203.3,373 205.9,375.6Q208.6,378.2 211.2,375.6Q213.8,373 216.4,375.6Q219.1,378.2 221.7,375.6Q224.3,373 226.9,375.6Q229.6,378.2 232.2,375.6Q234.8,373 237.4,375.6Q240.1,378.2 242.7,375.6Q245.3,373 247.9,375.6Q250.6,378.2 253.2,375.6Q255.8,373 258.4,375.6Q261.1,378.2 263.7,375.6Q264.9,374.5 266,375.6" fill="none" stroke="#cbcbcb" stroke-width="2.0" stroke-linecap="round" stroke-linejoin="round"/>
<path d="M74.7,483.6Q77.3,481 80,483.6Q82.6,486.2 85.2,483.6Q87.8,481 90.5,483.6Q93.1,486.2 95.7,483.6Q98.3,481 101,483.6Q103.6,486.2 106.2,483.6Q108.8,481 111.5,483.6Q114.1,486.2 116.7,483.6Q119.3,481 122,483.6Q124.6,486.2 127.2,483.6Q129.8,481 132.4,483.6Q135.1,486.2 137.7,483.6Q140.3,481 142.9,483.6Q145.6,486.2 148.2,483.6Q150.8,481 153.4,483.6Q156.1,486.2 158.7,483.6Q161.3,481 163.9,483.6Q166.6,486.2 169.2,483.6Q171.8,481 174.4,483.6Q177.1,486.2 179.7,483.6Q182.3,481 184.9,483.6Q187.6,486.2 190.2,483.6Q192.8,481 195.4,483.6Q198.1,486.2 200.7,483.6Q203.3,481 205.9,483.6Q208.6,486.2 211.2,483.6Q213.8,481 216.4,483.6Q219.1,486.2 221.7,483.6Q224.3,481 226.9,483.6Q229.6,486.2 232.2,483.6Q234.8,481 237.4,483.6Q240.1,486.2 242.7,483.6Q245.3,481 247.9,483.6Q250.6,486.2 253.2,483.6Q255.8,481 258.4,483.6Q261.1,486.2 263.7,483.6Q264.9,482.5 266,483.6" fill="none" stroke="#cbcbcb" stroke-width="2.0" stroke-linecap="round" stroke-linejoin="round"/>
<rect x="197" y="201.5" width="15" height="9" fill="#fff" />
<text x="204.4" y="206" font-size="11" fill="#c2c2c2" text-anchor="middle" font-weight="normal" font-style="normal" dominant-baseline="central" >??</text>
<rect x="197" y="281.8" width="15" height="9" fill="#fff" />
<text x="204.4" y="286.3" font-size="11" fill="#c2c2c2" text-anchor="middle" font-weight="normal" font-style="normal" dominant-baseline="central" >??</text>
<rect x="197" y="335.3" width="15" height="9" fill="#fff" />
<text x="204.4" y="339.8" font-size="11" fill="#c2c2c2" text-anchor="middle" font-weight="normal" font-style="normal" dominant-baseline="central" >??</text>
<rect x="197" y="371.1" width="15" height="9" fill="#fff" />
<text x="204.4" y="375.6" font-size="11" fill="#c2c2c2" text-anchor="middle" font-weight="normal" font-style="normal" dominant-baseline="central" >??</text>
<text x="204.4" y="430" font-size="11" fill="#c2c2c2" text-anchor="middle" font-weight="normal" font-style="normal" dominant-baseline="central" >??</text>
<text x="204.4" y="500.5" font-size="11" fill="#c2c2c2" text-anchor="middle" font-weight="normal" font-style="normal" dominant-baseline="central" >??</text>
<text x="204.4" y="545" font-size="11" fill="#c2c2c2" text-anchor="middle" font-weight="normal" font-style="normal" dominant-baseline="central" >??</text>
<text x="204.4" y="237.5" font-size="9" fill="#acacac" text-anchor="middle" font-weight="normal" font-style="normal" dominant-baseline="central" >not reached</text>
<text x="204.4" y="247.7" font-size="9" fill="#acacac" text-anchor="middle" font-weight="normal" font-style="normal" dominant-baseline="central" >by drillholes</text>
<text x="204.4" y="257.6" font-size="9" fill="#acacac" text-anchor="middle" font-weight="normal" font-style="normal" dominant-baseline="central" >in Sinu</text>
<text x="145.4" y="12.2" font-size="10" fill="#000" text-anchor="start" font-weight="bold" font-style="italic" dominant-baseline="central" >WNW</text>
<text x="596.8" y="12.2" font-size="10" fill="#000" text-anchor="end" font-weight="bold" font-style="italic" dominant-baseline="central" >ESE</text>
<line x1="143.8" y1="29" x2="266.4" y2="29" stroke="#444" stroke-width="0.8" />
<polygon points="143.8,29 152.3,25.5 152.3,32.5" fill="#000" />
<polygon points="266.4,29 257.9,25.5 257.9,32.5" fill="#000" />
<line x1="266.4" y1="29" x2="388.2" y2="29" stroke="#444" stroke-width="0.8" />
<polygon points="266.4,29 274.9,25.5 274.9,32.5" fill="#000" />
<polygon points="388.2,29 379.7,25.5 379.7,32.5" fill="#000" />
<line x1="388.2" y1="29" x2="597.5" y2="29" stroke="#444" stroke-width="0.8" />
<polygon points="388.2,29 396.7,25.5 396.7,32.5" fill="#000" />
<polygon points="597.5,29 589,25.5 589,32.5" fill="#000" />
<line x1="266.4" y1="19.3" x2="266.4" y2="40.2" stroke="#000" stroke-width="0.9" />
<line x1="388.2" y1="19.3" x2="388.2" y2="40.2" stroke="#000" stroke-width="0.9" />
<rect x="189.4" y="22" width="30" height="14" fill="#fff" />
<text x="204.4" y="29.6" font-size="12.5" fill="#222" text-anchor="middle" font-weight="normal" font-style="normal" dominant-baseline="central" >Sinu</text>
<rect x="291.4" y="22" width="72" height="14" fill="#fff" />
<text x="327.4" y="29.6" font-size="12.5" fill="#222" text-anchor="middle" font-weight="normal" font-style="normal" dominant-baseline="central" >San Jacinto</text>
<rect x="481.4" y="22" width="32" height="14" fill="#fff" />
<text x="497.4" y="29.6" font-size="12.5" fill="#222" text-anchor="middle" font-weight="normal" font-style="normal" dominant-baseline="central" >LMV</text>
<path d="M464,379.3Q466.4,382.7 468.8,379.3Q471.2,375.9 473.6,379.3Q476,382.7 478.4,379.3Q480.8,375.9 483.2,379.3Q485.6,382.7 488,379.3" fill="none" stroke="#000" stroke-width="3.1" stroke-linecap="round" stroke-linejoin="round"/>
<text x="493.8" y="381" font-size="7.1" fill="#111" text-anchor="start" font-weight="normal" font-style="normal" dominant-baseline="central" >Unconformity</text>
<line x1="464" y1="394.4" x2="488.8" y2="394.4" stroke="#000" stroke-width="2.4" />
<text x="493.8" y="394.4" font-size="7.1" fill="#111" text-anchor="start" font-weight="normal" font-style="normal" dominant-baseline="central" >coal seams</text>
<rect x="462.5" y="405.8" width="13.1" height="11.5" fill="#58b55e" />
<rect x="475.6" y="405.8" width="13.2" height="11.5" fill="#90cd96" />
<text x="493.8" y="407.2" font-size="7.1" fill="#111" text-anchor="start" font-weight="normal" font-style="normal" dominant-baseline="central" >Calcareous</text>
<text x="493.8" y="414.8" font-size="7.1" fill="#111" text-anchor="start" font-weight="normal" font-style="normal" dominant-baseline="central" >sandstones/mudstones</text>
<rect x="462.5" y="425.6" width="26.3" height="10.8" fill="#f5e522" />
<text x="493.8" y="431" font-size="7.1" fill="#111" text-anchor="start" font-weight="normal" font-style="normal" dominant-baseline="central" >Sandstones (mostly marine)</text>
<rect x="462.5" y="444.7" width="13.1" height="11.5" fill="#333" />
<rect x="475.6" y="444.7" width="13.2" height="11.5" fill="#8a8a8a" />
<text x="493.8" y="449" font-size="7.1" fill="#111" text-anchor="start" font-weight="normal" font-style="normal" dominant-baseline="central" >Deep/shallow marine</text>
<text x="493.8" y="457.3" font-size="7.1" fill="#111" text-anchor="start" font-weight="normal" font-style="normal" dominant-baseline="central" >mudstones</text>
<rect x="462.5" y="468.8" width="26.3" height="10.8" fill="#3a96da" />
<text x="493.8" y="474.2" font-size="7.1" fill="#111" text-anchor="start" font-weight="normal" font-style="normal" dominant-baseline="central" >Shallow marine limestones</text>
<rect x="462.5" y="488.6" width="26.3" height="10.8" fill="#f28c1f" />
<text x="493.8" y="492.5" font-size="7.1" fill="#111" text-anchor="start" font-weight="normal" font-style="normal" dominant-baseline="central" >Siliceous mudstones</text>
<text x="493.8" y="500.6" font-size="7.1" fill="#111" text-anchor="start" font-weight="normal" font-style="normal" dominant-baseline="central" >and cherts</text>
<rect x="462.5" y="512" width="26.3" height="11" fill="#fbd8b8" />
<text x="493.8" y="517.6" font-size="7.1" fill="#111" text-anchor="start" font-weight="normal" font-style="normal" dominant-baseline="central" >Conglomerates</text>
<rect x="462.5" y="534.8" width="26.3" height="11.2" fill="#b694d2" />
<text x="493.8" y="537.6" font-size="7.1" fill="#111" text-anchor="start" font-weight="normal" font-style="normal" dominant-baseline="central" >Lava flows, tuffs and</text>
<text x="493.8" y="546" font-size="7.1" fill="#111" text-anchor="start" font-weight="normal" font-style="normal" dominant-baseline="central" >agglomerates</text>
<rect x="462.5" y="558.5" width="26.3" height="10.7" fill="#41b02f" />
<text x="493.8" y="564" font-size="7.1" fill="#111" text-anchor="start" font-weight="normal" font-style="normal" dominant-baseline="central" >Oceanic basement</text>
<line x1="4.5" y1="40" x2="143.3" y2="40" stroke="#b2b2b2" stroke-width="0.8" />
<line x1="22.7" y1="53.4" x2="74.7" y2="53.4" stroke="#b2b2b2" stroke-width="0.8" />
<line x1="22.7" y1="67.5" x2="74.7" y2="67.5" stroke="#b2b2b2" stroke-width="0.8" />
<line x1="39.2" y1="94" x2="74.7" y2="94" stroke="#dcdcdc" stroke-width="0.6" />
<line x1="39.2" y1="122.4" x2="74.7" y2="122.4" stroke="#b2b2b2" stroke-width="0.8" />
<line x1="22.7" y1="161.7" x2="74.7" y2="161.7" stroke="#b2b2b2" stroke-width="0.8" />
<line x1="39.2" y1="186.7" x2="74.7" y2="186.7" stroke="#b2b2b2" stroke-width="0.8" />
<line x1="22.7" y1="213" x2="74.7" y2="213" stroke="#b2b2b2" stroke-width="0.8" />
<line x1="39.2" y1="233.6" x2="74.7" y2="233.6" stroke="#b2b2b2" stroke-width="0.8" />
<line x1="22.7" y1="315.9" x2="74.7" y2="315.9" stroke="#b2b2b2" stroke-width="0.8" />
<line x1="39.2" y1="336.2" x2="74.7" y2="336.2" stroke="#b2b2b2" stroke-width="0.8" />
<line x1="4.5" y1="372.3" x2="74.7" y2="372.3" stroke="#444" stroke-width="0.9" />
<line x1="22.7" y1="405" x2="74.7" y2="405" stroke="#b2b2b2" stroke-width="0.8" />
<line x1="22.7" y1="465.5" x2="74.7" y2="465.5" stroke="#b2b2b2" stroke-width="0.8" />
<line x1="22.7" y1="477.9" x2="74.7" y2="477.9" stroke="#b2b2b2" stroke-width="0.8" />
<line x1="22.7" y1="493.9" x2="74.7" y2="493.9" stroke="#b2b2b2" stroke-width="0.8" />
<line x1="22.7" y1="515.2" x2="74.7" y2="515.2" stroke="#b2b2b2" stroke-width="0.8" />
<line x1="22.7" y1="546.2" x2="74.7" y2="546.2" stroke="#b2b2b2" stroke-width="0.8" />
<line x1="22.7" y1="53.4" x2="22.7" y2="576" stroke="#666" stroke-width="0.8" />
<line x1="39.2" y1="67.5" x2="39.2" y2="372.3" stroke="#b2b2b2" stroke-width="0.8" />
<line x1="74.7" y1="5.5" x2="74.7" y2="576" stroke="#555" stroke-width="0.8" />
<line x1="143.3" y1="5.5" x2="143.3" y2="576" stroke="#000" stroke-width="1.1" />
<rect x="4.5" y="5.5" width="593.5" height="570.5" fill="none" stroke="#000" stroke-width="1.2"/>
<text x="40" y="20.2" font-size="10" fill="#111" text-anchor="middle" font-weight="normal" font-style="normal" dominant-baseline="central" >GEOLOGICAL</text>
<text x="40" y="31.4" font-size="10" fill="#111" text-anchor="middle" font-weight="normal" font-style="normal" dominant-baseline="central" >TIME</text>
<text x="108.4" y="24.2" font-size="11.3" fill="#111" text-anchor="middle" font-weight="normal" font-style="normal" dominant-baseline="central" >Sequences</text>
<text x="41" y="46" font-size="7.6" fill="#111" text-anchor="middle" font-weight="normal" font-style="normal" dominant-baseline="central" >QUATERNARY</text>
<text x="50.2" y="61" font-size="9" fill="#111" text-anchor="middle" font-weight="normal" font-style="normal" dominant-baseline="central" >PLIOCENE</text>
<text x="57" y="82.5" font-size="7.6" fill="#111" text-anchor="middle" font-weight="normal" font-style="normal" dominant-baseline="central" >UPPER</text>
<text x="57" y="107.7" font-size="7.6" fill="#111" text-anchor="middle" font-weight="normal" font-style="normal" dominant-baseline="central" >MIDDLE</text>
<text x="57" y="142.6" font-size="7.6" fill="#111" text-anchor="middle" font-weight="normal" font-style="normal" dominant-baseline="central" >LOWER</text>
<text x="57" y="172.5" font-size="7.6" fill="#111" text-anchor="middle" font-weight="normal" font-style="normal" dominant-baseline="central" >UPPER</text>
<text x="57" y="200.1" font-size="7.6" fill="#111" text-anchor="middle" font-weight="normal" font-style="normal" dominant-baseline="central" >LOWER</text>
<text x="57" y="223.3" font-size="7.6" fill="#111" text-anchor="middle" font-weight="normal" font-style="normal" dominant-baseline="central" >UPPER</text>
<text x="57" y="261.4" font-size="7.6" fill="#111" text-anchor="middle" font-weight="normal" font-style="normal" dominant-baseline="central" >MIDDLE</text>
<text x="57" y="301" font-size="7.6" fill="#111" text-anchor="middle" font-weight="normal" font-style="normal" dominant-baseline="central" >LOWER</text>
<text x="57" y="326" font-size="7.6" fill="#111" text-anchor="middle" font-weight="normal" font-style="normal" dominant-baseline="central" >UPPER</text>
<text x="57" y="353" font-size="7.6" fill="#111" text-anchor="middle" font-weight="normal" font-style="normal" dominant-baseline="central" >LOWER</text>
<text x="48" y="389.3" font-size="6.3" fill="#111" text-anchor="middle" font-weight="normal" font-style="normal" dominant-baseline="central" stroke="#111" stroke-width="0.12">MAASTRICHT.</text>
<text x="49.5" y="436.6" font-size="7.6" fill="#111" text-anchor="middle" font-weight="normal" font-style="normal" dominant-baseline="central" >CAMPANIAN</text>
<text x="48.7" y="472" font-size="7.6" fill="#111" text-anchor="middle" font-weight="normal" font-style="normal" dominant-baseline="central" >SANTONIAN</text>
<text x="49" y="486.6" font-size="7.6" fill="#111" text-anchor="middle" font-weight="normal" font-style="normal" dominant-baseline="central" >CONIACIAN</text>
<text x="49.3" y="506.2" font-size="7.5" fill="#111" text-anchor="middle" font-weight="normal" font-style="normal" dominant-baseline="central" >TURONIAN</text>
<text x="48.6" y="531.2" font-size="6.4" fill="#111" text-anchor="middle" font-weight="normal" font-style="normal" dominant-baseline="central" >CENOMANIAN</text>
<text x="48.8" y="555" font-size="7.6" fill="#111" text-anchor="middle" font-weight="normal" font-style="normal" dominant-baseline="central" >ALBIAN</text>
<text transform="translate(31,112) rotate(-90)" font-size="8.4" fill="#111" text-anchor="middle" font-weight="normal" dominant-baseline="central" letter-spacing="0">MIOCENE</text>
<text transform="translate(31,187.3) rotate(-90)" font-size="8.4" fill="#111" text-anchor="middle" font-weight="normal" dominant-baseline="central" letter-spacing="0">OLIGOCENE</text>
<text transform="translate(31,266.5) rotate(-90)" font-size="8" fill="#111" text-anchor="middle" font-weight="normal" dominant-baseline="central" letter-spacing="0">EOCENE</text>
<text transform="translate(31,345) rotate(-90)" font-size="8.1" fill="#111" text-anchor="middle" font-weight="normal" dominant-baseline="central" letter-spacing="0">PALEOCENE</text>
<text transform="translate(14.8,223.6) rotate(-90)" font-size="12.6" fill="#111" text-anchor="middle" font-weight="normal" dominant-baseline="central" letter-spacing="3.1">TERTIARY</text>
<text transform="translate(15,477.3) rotate(-90)" font-size="12.6" fill="#111" text-anchor="middle" font-weight="normal" dominant-baseline="central" letter-spacing="2.7">CRETACEOUS</text>
<text x="109" y="52.2" font-size="14" fill="#c9c9c9" text-anchor="middle" font-weight="normal" font-style="normal" dominant-baseline="central" >10</text>
<text x="109" y="73.4" font-size="14" fill="#c9c9c9" text-anchor="middle" font-weight="normal" font-style="normal" dominant-baseline="central" >9</text>
<text x="109" y="98.5" font-size="14" fill="#c9c9c9" text-anchor="middle" font-weight="normal" font-style="normal" dominant-baseline="central" >7-8</text>
<text x="109" y="126.2" font-size="14" fill="#c9c9c9" text-anchor="middle" font-weight="normal" font-style="normal" dominant-baseline="central" >6</text>
<text x="109" y="171" font-size="14" fill="#c9c9c9" text-anchor="middle" font-weight="normal" font-style="normal" dominant-baseline="central" >5</text>
<text x="109" y="218.6" font-size="17" fill="#111" text-anchor="middle" font-weight="normal" font-style="normal" dominant-baseline="central" >4</text>
<text x="109" y="258.4" font-size="17" fill="#111" text-anchor="middle" font-weight="normal" font-style="normal" dominant-baseline="central" >3</text>
<text x="109" y="313.8" font-size="17" fill="#111" text-anchor="middle" font-weight="normal" font-style="normal" dominant-baseline="central" >2</text>
<text x="109" y="426.5" font-size="17" fill="#111" text-anchor="middle" font-weight="normal" font-style="normal" dominant-baseline="central" >1</text>
</svg>
</body></html>
